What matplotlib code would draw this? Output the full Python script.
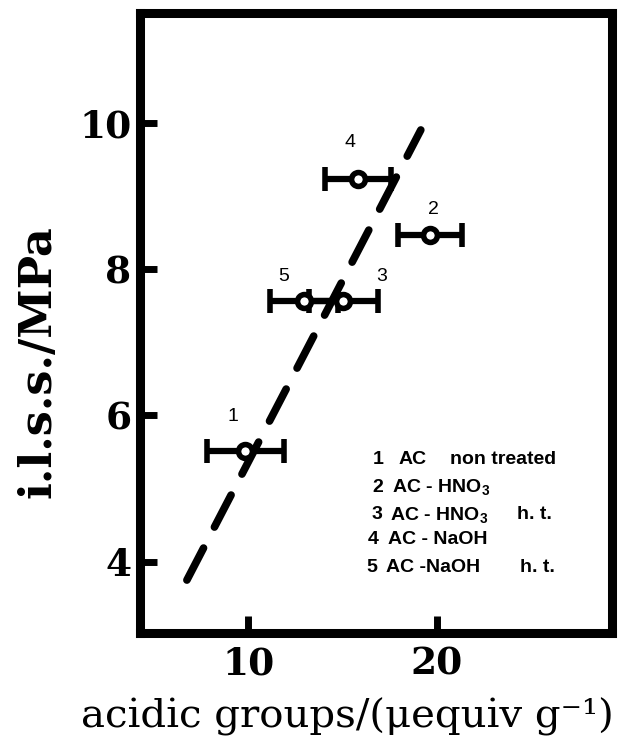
import matplotlib
matplotlib.use("Agg")
import matplotlib.pyplot as plt

# datos
acidos = [9.85, 19.65, 15.05, 15.8, 12.95]
ilss = [5.51, 8.47, 7.56, 9.23, 7.56]
error_x = [2.05, 1.7, 1.85, 1.75, 1.8]
numeros = ["1", "2", "3", "4", "5"]
pos_numeros_x = [9.2, 19.8, 17.1, 15.4, 11.9]
pos_numeros_y = [5.98, 8.82, 7.9, 9.73, 7.9]

# recta de ajuste (extremos)
recta_x = [6.75, 19.15]
recta_y = [3.75, 9.9]

leyenda_num = ["1", "2", "3", "4", "5"]
leyenda_txt = ["AC", "AC - HNO$_3$", "AC - HNO$_3$", "AC - NaOH", "AC -NaOH"]
leyenda_extra = ["non treated", "", "h. t.", "", "h. t."]

# posiciones de la leyenda (fraccion de ejes)
ley_x_num = [0.494, 0.492, 0.490, 0.482, 0.480]
ley_x_txt = [0.547, 0.534, 0.530, 0.526, 0.522]
ley_x_extra = [0.657, 0, 0.799, 0, 0.805]
ley_y = [0.279, 0.235, 0.190, 0.150, 0.105]

plt.rcParams['lines.scale_dashes'] = False
plt.rcParams['mathtext.fontset'] = 'custom'
plt.rcParams['mathtext.rm'] = 'Liberation Sans:bold'
plt.rcParams['mathtext.it'] = 'Liberation Sans:bold'

fig = plt.figure(figsize=(6.21, 7.56), dpi=100)
ax = fig.add_axes([0.225, 0.163, 0.761, 0.820])

ax.plot(recta_x, recta_y, color='black', lw=5.5, dashes=(26, 17),
        dash_capstyle='round', zorder=1)

ax.errorbar(acidos, ilss, xerr=error_x, fmt='o', ms=10, mfc='white', mec='black',
            mew=4, ecolor='black', elinewidth=4.5, capsize=8.5, capthick=4.5, zorder=3)

for n, px, py in zip(numeros, pos_numeros_x, pos_numeros_y):
    ax.text(px, py, n, fontsize=14, family='Liberation Sans', ha='center', va='center')

for i in range(5):
    estilo = dict(transform=ax.transAxes, fontsize=14, fontweight='bold',
                  family='Liberation Sans', va='center')
    ax.text(ley_x_num[i], ley_y[i], leyenda_num[i], **estilo)
    ax.text(ley_x_txt[i], ley_y[i], leyenda_txt[i], **estilo)
    if leyenda_extra[i]:
        ax.text(ley_x_extra[i], ley_y[i], leyenda_extra[i], **estilo)

ax.set_xlim(4.25, 29.3)
ax.set_ylim(3.03, 11.5)
ax.set_xticks([10, 20])
ax.set_yticks([4, 6, 8, 10])
ax.tick_params(direction='in', length=12, width=5, labelsize=27)
ax.tick_params(axis='x', pad=9)
ax.tick_params(axis='y', pad=6)
for lab in ax.get_xticklabels() + ax.get_yticklabels():
    lab.set_family('DejaVu Serif')
    lab.set_fontweight('bold')
for s in ax.spines.values():
    s.set_linewidth(6.5)

ax.set_ylabel("i.l.s.s./MPa", fontsize=32, family='DejaVu Serif', fontweight='bold')
ax.yaxis.set_label_coords(-0.17, 0.437)
ax.set_xlabel("acidic groups/(μequiv g⁻¹)", fontsize=29, family='DejaVu Serif')
ax.xaxis.set_label_coords(0.44, -0.105)

fig.savefig("out.png", dpi=100)
